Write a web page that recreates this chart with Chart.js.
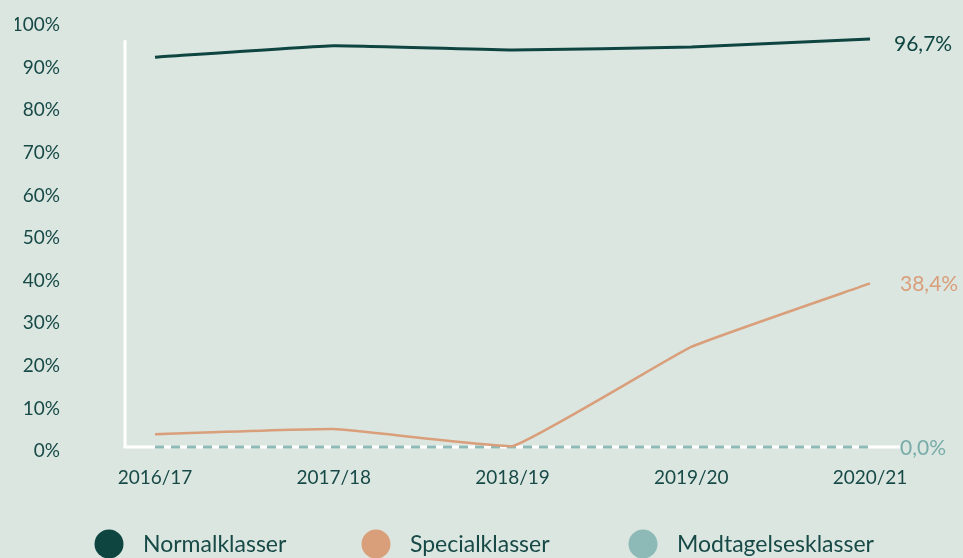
<!DOCTYPE html>
<html>
<head>
<meta charset="utf-8">
<script src="https://cdn.jsdelivr.net/npm/chart.js@4"></script>
<style>
  html, body { margin: 0; padding: 0; background: #dce6e1; }
  #wrap { width: 963px; height: 558px; }
</style>
</head>
<body>
<div id="wrap"><canvas id="c" width="963" height="558"></canvas></div>
<script>
const categories = ['2016/17', '2017/18', '2018/19', '2019/20', '2020/21'];
const normalklasser = [91.5, 94.2, 93.2, 93.9, 95.8];
const specialklasser = [3.0, 4.2, 0.2, 23.5, 38.4];
const modtagelsesklasser = [0, 0, 0, 0, 0];
const seriesNames = ['Normalklasser', 'Specialklasser', 'Modtagelsesklasser'];
const endLabels = ['96,7%', '38,4%', '0,0%'];
const yMin = 0, yMax = 100, yStep = 10;

const colors = ['#0f4541', '#d99e7a', '#8dbab6'];
const labelColors = ['#0f4541', '#d99e7a', '#78aca8'];
const textColor = '#174a47';
const FONT = 'Lato, "Open Sans", sans-serif';

const axesPlugin = {
  id: 'axesLines',
  beforeDatasetsDraw(chart) {
    const { ctx, chartArea, scales } = chart;
    const y0 = scales.y.getPixelForValue(0);
    const yTop = scales.y.getPixelForValue(95.5);
    const xL = chartArea.left - 30;
    const xR = chartArea.right + 30;
    ctx.save();
    ctx.strokeStyle = '#ffffff';
    ctx.lineWidth = 3;
    ctx.beginPath();
    ctx.moveTo(xL, yTop);
    ctx.lineTo(xL, y0);
    ctx.lineTo(xR, y0);
    ctx.stroke();
    ctx.restore();
  },
  afterDatasetsDraw(chart) {
    const { ctx } = chart;
    ctx.save();
    ctx.font = '21px ' + FONT;
    ctx.textBaseline = 'middle';
    ctx.textAlign = 'left';
    chart.data.datasets.forEach((ds, i) => {
      const meta = chart.getDatasetMeta(i);
      const last = meta.data[meta.data.length - 1];
      ctx.fillStyle = labelColors[i];
      const dx = i === 0 ? 24 : 30;
      const dy = i === 0 ? 5 : 1;
      ctx.fillText(endLabels[i], last.x + dx, last.y + dy);
    });
    ctx.restore();
  },
  afterDraw(chart) {
    const { ctx } = chart;
    ctx.save();
    ctx.font = '23px ' + FONT;
    ctx.textBaseline = 'middle';
    ctx.textAlign = 'left';
    const cy = 544;
    chart.data.datasets.forEach((ds, i) => {
      const cx = 109 + i * 267;
      ctx.fillStyle = colors[i];
      ctx.beginPath();
      ctx.arc(cx, cy, 14.5, 0, Math.PI * 2);
      ctx.fill();
      ctx.fillStyle = textColor;
      ctx.fillText(ds.label, cx + 34, cy + 1);
    });
    ctx.restore();
  }
};

new Chart(document.getElementById('c'), {
  type: 'line',
  data: {
    labels: categories,
    datasets: [
      { label: seriesNames[0], data: normalklasser, borderColor: colors[0], borderWidth: 3, tension: 0.1 },
      { label: seriesNames[1], data: specialklasser, borderColor: colors[1], borderWidth: 2.5, tension: 0.1 },
      { label: seriesNames[2], data: modtagelsesklasser, borderColor: colors[2], borderWidth: 3, borderDash: [9, 7], tension: 0 }
    ].map(d => Object.assign(d, { pointRadius: 0, pointHoverRadius: 0, fill: false, clip: false }))
  },
  options: {
    responsive: false,
    devicePixelRatio: 1,
    animation: false,
    layout: { padding: { left: 15, right: 93, top: 21, bottom: 71 } },
    plugins: { legend: { display: false }, tooltip: { enabled: false } },
    scales: {
      x: {
        offset: false,
        grid: { display: false, drawTicks: false },
        border: { display: false },
        ticks: { color: textColor, font: { family: FONT, size: 19 }, padding: 19, maxRotation: 0 },
        afterFit(scale) { scale.height = 40; scale.paddingLeft = 0; scale.paddingRight = 0; }
      },
      y: {
        min: yMin, max: yMax,
        grid: { display: false, drawTicks: false },
        border: { display: false },
        ticks: {
          stepSize: yStep,
          color: textColor,
          font: { family: FONT, size: 19 },
          padding: 95,
          labelOffset: 4,
          callback: v => v + '%'
        },
        afterFit(scale) { scale.width = 140; scale.paddingTop = 0; scale.paddingBottom = 0; }
      }
    }
  },
  plugins: [axesPlugin]
});
</script>
</body>
</html>
